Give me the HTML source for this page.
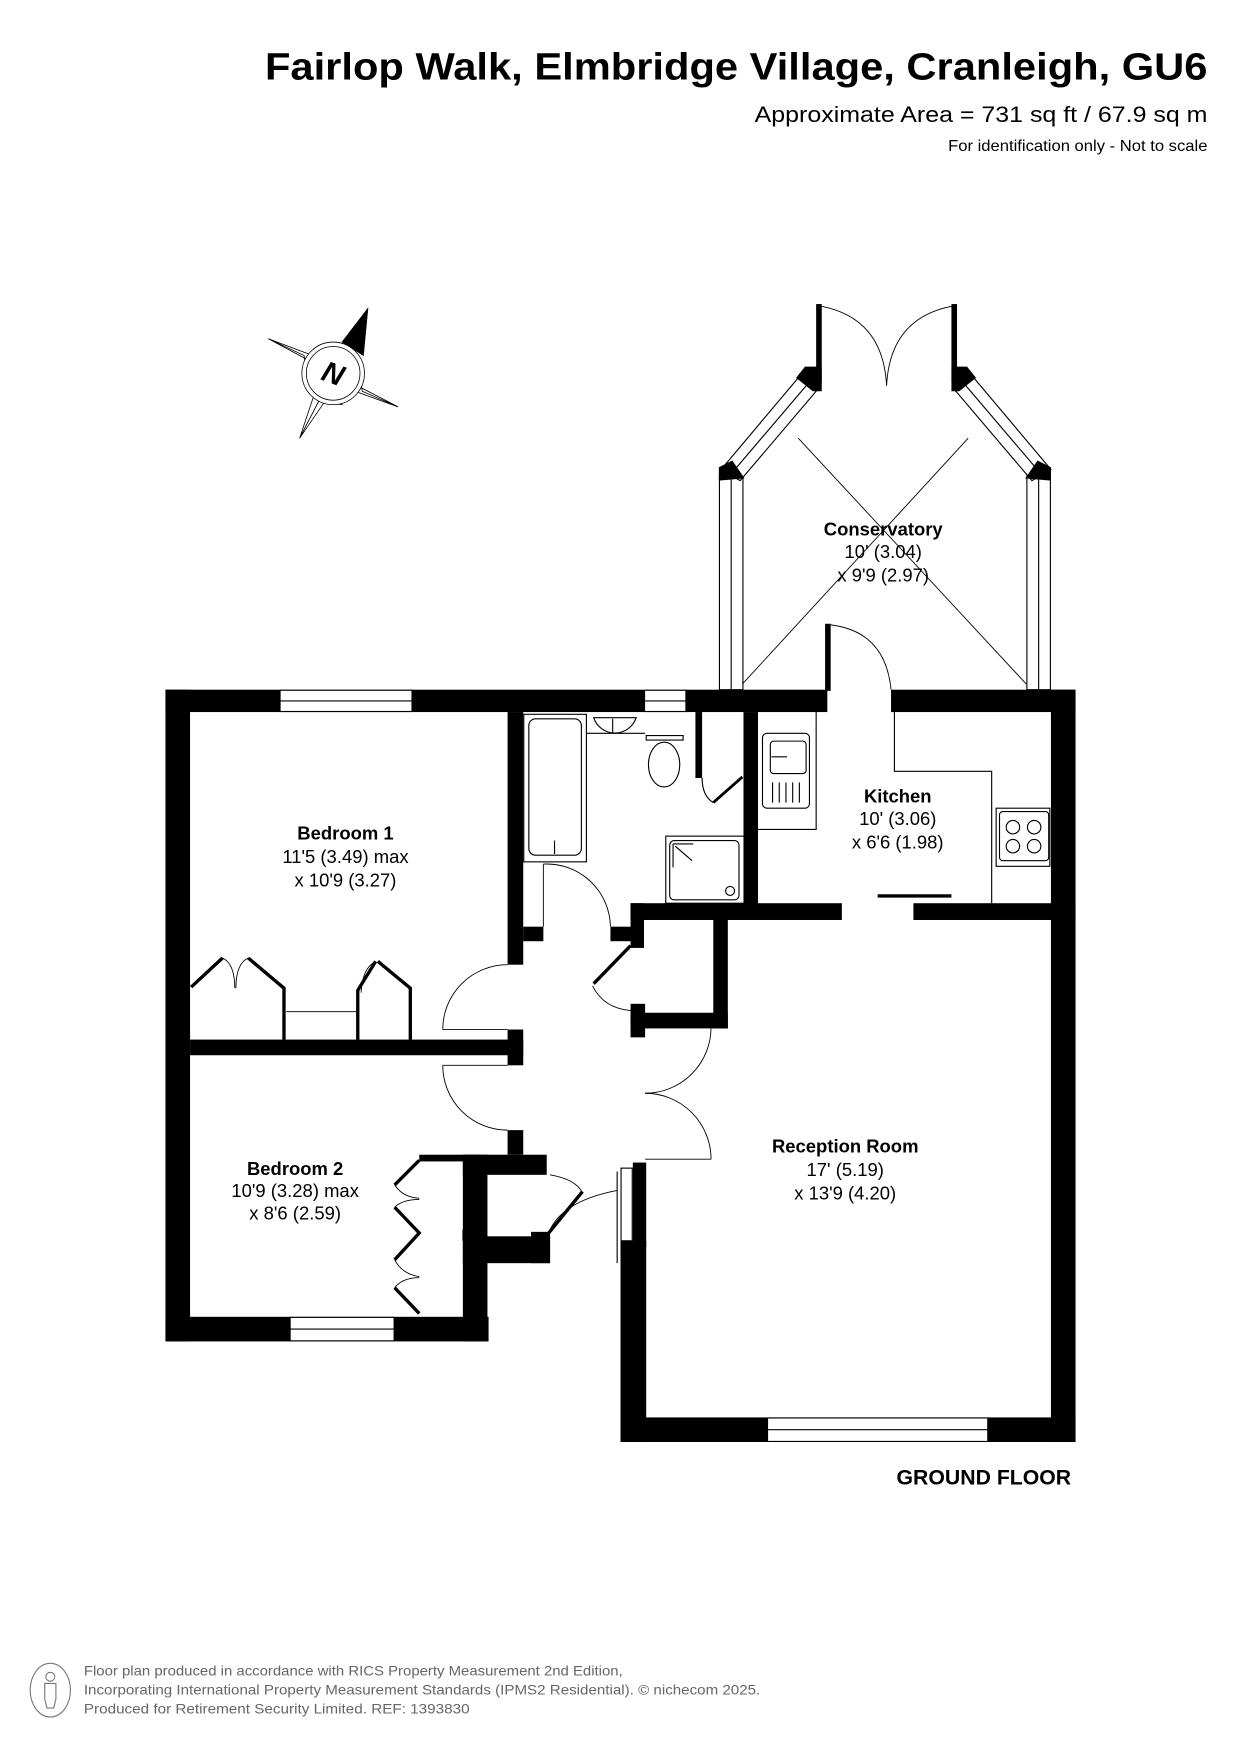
<!DOCTYPE html>
<html><head><meta charset="utf-8"><style>
html,body{margin:0;padding:0;background:#fff;}
svg{display:block;}
text{font-family:"Liberation Sans",Arial,sans-serif;}
</style></head><body>
<svg width="1241" height="1755" viewBox="0 0 1110 1570" preserveAspectRatio="none" xmlns="http://www.w3.org/2000/svg">
<rect width="1110" height="1570" fill="#fff"/>
<!-- Titles -->
<text x="1080" y="71" text-anchor="end" font-size="34" font-weight="bold" textLength="843" lengthAdjust="spacingAndGlyphs">Fairlop Walk, Elmbridge Village, Cranleigh, GU6</text>
<text x="1080" y="109" text-anchor="end" font-size="20" textLength="405" lengthAdjust="spacingAndGlyphs">Approximate Area = 731 sq ft / 67.9 sq m</text>
<text x="1080" y="135" text-anchor="end" font-size="14" textLength="232" lengthAdjust="spacingAndGlyphs">For identification only - Not to scale</text>

<!-- Compass -->
<g stroke="#000" stroke-width="0.7" fill="#fff">
<polygon points="240,303 285,320 298,334"/>
<polygon points="356,364 312,348 298,334"/>
<polygon points="268,392 282,350 298,334"/>
<polygon points="240,303 272,318 275,345 298,334"/>
<polygon points="356,364 324,350 320,322 298,334"/>
<polygon points="268,392 290,360 306,362 298,334"/>
<polygon points="329,276 306,306 325,318" fill="#000"/>
<circle cx="298" cy="334" r="28"/>
<circle cx="298" cy="334" r="24"/>
</g>
<text x="298" y="343" text-anchor="middle" font-size="26" font-weight="bold" font-style="italic" transform="rotate(20 298 334)">N</text>

<!-- WALLS -->
<g fill="#000">
<!-- top wall -->
<rect x="148" y="617" width="592" height="20"/>
<rect x="797" y="617" width="165" height="20"/>
<!-- left wall -->
<rect x="148" y="617" width="22" height="583"/>
<!-- bed1/bath wall -->
<rect x="454" y="637" width="14" height="226"/>
<rect x="454" y="921" width="14" height="32"/>
<rect x="454" y="1011" width="14" height="22"/>
<!-- bed1/bed2 divider -->
<rect x="170" y="930" width="298" height="14"/>
<!-- bath bottom -->
<rect x="468" y="829" width="18" height="13"/>
<rect x="546" y="829" width="30" height="13"/>
<rect x="564" y="808" width="12" height="40"/>
<rect x="564" y="808" width="189" height="15"/>
<rect x="817" y="808" width="145" height="15"/>
<!-- bath/kitchen wall -->
<rect x="665" y="637" width="13" height="173"/>
<!-- wc closet wall -->
<rect x="622" y="637" width="6" height="59"/>
<!-- cupboard -->
<rect x="638" y="818" width="13" height="102"/>
<rect x="564" y="906" width="87" height="14"/>
<rect x="564" y="898" width="13" height="30"/>
<!-- right wall -->
<rect x="940" y="617" width="22" height="673"/>
<!-- reception bottom -->
<rect x="555" y="1268" width="407" height="22"/>
<!-- reception left -->
<rect x="555" y="1110" width="23" height="180"/>
<rect x="566" y="1040" width="12" height="75"/>
<!-- bed2 closet top -->
<rect x="375" y="1033" width="55" height="6"/>
<rect x="414" y="1033" width="75" height="18"/>
<!-- bed2 right wall -->
<rect x="414" y="1033" width="22" height="167"/>
<!-- bed2 bottom -->
<rect x="148" y="1178" width="289" height="22"/>
<!-- small cupboard bottom -->
<rect x="414" y="1106" width="78" height="24"/>
<rect x="475" y="1102" width="17" height="28"/>
</g>
<g stroke="#000" fill="none" stroke-width="1">
<line x1="552" y1="1048" x2="552" y2="1130"/>
<rect x="555.5" y="1045" width="10" height="65" fill="#fff"/>
</g>

<!-- Windows -->
<g fill="#fff" stroke="#000" stroke-width="1">
<rect x="250.5" y="617.5" width="118" height="19"/><line x1="250" y1="627" x2="369" y2="627"/>
<rect x="576.5" y="617.5" width="37" height="19"/><line x1="576" y1="627" x2="614" y2="627"/>
<rect x="259.5" y="1178.5" width="93" height="21"/><line x1="259" y1="1189" x2="353" y2="1189"/>
<rect x="686.5" y="1268.5" width="197" height="21"/><line x1="686" y1="1279" x2="884" y2="1279"/>
</g>

<!-- Conservatory -->
<g stroke="#000" stroke-width="1" fill="#fff">
<rect x="643.5" y="425" width="21" height="192"/><line x1="654" y1="425" x2="654" y2="617"/>
<rect x="918.5" y="425" width="21" height="192"/><line x1="929" y1="425" x2="929" y2="617"/>
<polygon points="645,420 662,430 730,350 714,338"/><line x1="653" y1="425" x2="722" y2="344"/>
<polygon points="940,420 923,430 855,350 871,338"/><line x1="932" y1="425" x2="863" y2="344"/>
</g>
<g fill="#000">
<polygon points="643,418 655,412 666,428 643,430"/>
<polygon points="940,418 928,412 917,428 940,430"/>
<polygon points="712,338 720,328 735,328 735,350 727,350"/>
<polygon points="873,338 865,328 851,328 851,350 858,350"/>
<rect x="730" y="272" width="5" height="70"/>
<rect x="851" y="272" width="5" height="70"/>
<rect x="738" y="558" width="5" height="60"/>
</g>
<g stroke="#000" stroke-width="0.8" fill="none">
<path d="M735,274 Q790,285 793,345"/>
<path d="M851,274 Q796,285 793,345"/>
<line x1="664" y1="612" x2="866" y2="392"/>
<line x1="918" y1="612" x2="714" y2="392"/>
<path d="M743,559 Q792,565 797,617"/>
</g>

<!-- Kitchen fittings -->
<g stroke="#000" stroke-width="1" fill="none">
<polyline points="678,742 730,742 730,637"/>
<polyline points="800,637 800,690 887,690 887,808"/>
<rect x="682" y="656" width="42" height="67" rx="4"/>
<rect x="689" y="663" width="32" height="29" rx="3"/>
<line x1="690" y1="677" x2="704" y2="677"/>
<line x1="691" y1="700" x2="691" y2="718"/><line x1="697" y1="700" x2="697" y2="718"/><line x1="703" y1="700" x2="703" y2="718"/><line x1="709" y1="700" x2="709" y2="718"/><line x1="715" y1="700" x2="715" y2="718"/>
<rect x="891" y="723" width="48" height="52"/>
<rect x="894" y="726" width="44" height="44" rx="3"/>
<circle cx="906" cy="740" r="6"/><circle cx="925" cy="740" r="6"/><circle cx="906" cy="757" r="6"/><circle cx="925" cy="757" r="6"/>
</g>
<rect x="785" y="800" width="66" height="3" fill="#000"/>

<!-- Bathroom fittings -->
<g stroke="#000" stroke-width="1" fill="none">
<rect x="468.5" y="639" width="56" height="132"/>
<rect x="473" y="643" width="47" height="122" rx="6"/>
<line x1="496" y1="752" x2="496" y2="764"/>
<line x1="525" y1="656" x2="577" y2="656"/>
<path d="M531,642 A20,20 0 0 0 569,642 Z"/>
<line x1="548" y1="643" x2="548" y2="656"/>
<ellipse cx="594" cy="684" rx="14" ry="20"/>
<path d="M578,658 L611,658 L611,662 L578,662 Z"/>
<rect x="595.5" y="748" width="70" height="60"/>
<rect x="599" y="752" width="62" height="53" rx="4"/>
<line x1="602" y1="755" x2="620" y2="755"/>
<line x1="602" y1="755" x2="602" y2="776"/>
<line x1="604" y1="757" x2="619" y2="770"/>
<circle cx="653" cy="797" r="4"/>
<path d="M628,696 Q628,712 638,718"/>
</g>
<line x1="638" y1="718" x2="664" y2="695" stroke="#000" stroke-width="2.5"/>

<!-- Hall doors -->
<g stroke="#000" stroke-width="0.8" fill="none">
<line x1="486" y1="773" x2="486" y2="829"/>
<path d="M486,773 A57,57 0 0 1 546,829"/>
<path d="M396,921 A58,58 0 0 1 454,863"/>
<line x1="396" y1="921" x2="454" y2="921"/>
<line x1="396" y1="953" x2="454" y2="953"/>
<path d="M396,953 A58,58 0 0 0 454,1011"/>
<line x1="577" y1="919" x2="636" y2="919"/>
<path d="M636,919 A59,59 0 0 1 577,978"/>
<line x1="577" y1="1037" x2="636" y2="1037"/>
<path d="M636,1037 A59,59 0 0 0 577,978"/>
<path d="M530,882 Q540,902 564,904"/>
<path d="M492,1051 Q515,1055 521,1067"/>
<path d="M490,1105 Q500,1075 552,1065"/>
</g>
<line x1="564" y1="846" x2="531" y2="880" stroke="#000" stroke-width="3"/>
<line x1="490" y1="1104" x2="521" y2="1066" stroke="#000" stroke-width="3"/>

<!-- Bedroom 1 wardrobes -->
<g stroke="#000" stroke-width="3" fill="none">
<polyline points="171,883 199,857"/>
<polyline points="222,857 254,884 254,930"/>
<polyline points="320,930 320,886 336,860"/>
<polyline points="338,860 367,884 367,930"/>
</g>
<g stroke="#000" stroke-width="0.8" fill="none">
<path d="M199,857 Q210,862 210,884"/>
<path d="M222,857 Q211,862 211,884"/>
<path d="M336,860 Q324,866 323,888"/>
<line x1="256" y1="905" x2="320" y2="905"/>
</g>
<!-- Bedroom 2 wardrobe -->
<g stroke="#000" stroke-width="3" fill="none">
<polyline points="375,1038 353,1060"/>
<polyline points="353,1080 375,1103 353,1127"/>
<polyline points="353,1152 375,1175"/>
</g>
<g stroke="#000" stroke-width="0.8" fill="none">
<path d="M353,1060 Q360,1071 375,1072"/>
<path d="M353,1080 Q360,1073 375,1073"/>
<path d="M353,1127 Q360,1140 375,1142"/>
<path d="M353,1152 Q360,1143 375,1143"/>
<line x1="414" y1="1100" x2="414" y2="1110"/>
</g>

<!-- Labels -->
<g text-anchor="middle" font-size="16.5">
<text x="790" y="479" font-weight="bold">Conservatory</text>
<text x="790" y="499">10' (3.04)</text>
<text x="790" y="520">x 9'9 (2.97)</text>
<text x="803" y="718" font-weight="bold">Kitchen</text>
<text x="803" y="738">10' (3.06)</text>
<text x="803" y="759">x 6'6 (1.98)</text>
<text x="309" y="751" font-weight="bold">Bedroom 1</text>
<text x="309" y="772">11'5 (3.49) max</text>
<text x="309" y="793">x 10'9 (3.27)</text>
<text x="264" y="1051" font-weight="bold">Bedroom 2</text>
<text x="264" y="1071">10'9 (3.28) max</text>
<text x="264" y="1091">x 8'6 (2.59)</text>
<text x="756" y="1031" font-weight="bold">Reception Room</text>
<text x="756" y="1052">17' (5.19)</text>
<text x="756" y="1073">x 13'9 (4.20)</text>
</g>
<text x="880" y="1328" text-anchor="middle" font-size="19" font-weight="bold">GROUND FLOOR</text>

<!-- Footer -->
<g stroke="#777" stroke-width="1" fill="none">
<ellipse cx="45" cy="1512" rx="18" ry="24"/>
<circle cx="45" cy="1500" r="4"/>
<path d="M40,1506 L50,1506 L50,1520 L48,1528 L42,1528 L40,1520 Z"/>
</g>
<g fill="#666" font-size="12.5">
<text x="75" y="1499" textLength="482" lengthAdjust="spacingAndGlyphs">Floor plan produced in accordance with RICS Property Measurement 2nd Edition,</text>
<text x="75" y="1516" textLength="605" lengthAdjust="spacingAndGlyphs">Incorporating International Property Measurement Standards (IPMS2 Residential).   © nichecom 2025.</text>
<text x="75" y="1533" textLength="345" lengthAdjust="spacingAndGlyphs">Produced for Retirement Security Limited.   REF: 1393830</text>
</g>
</svg>
</body></html>
